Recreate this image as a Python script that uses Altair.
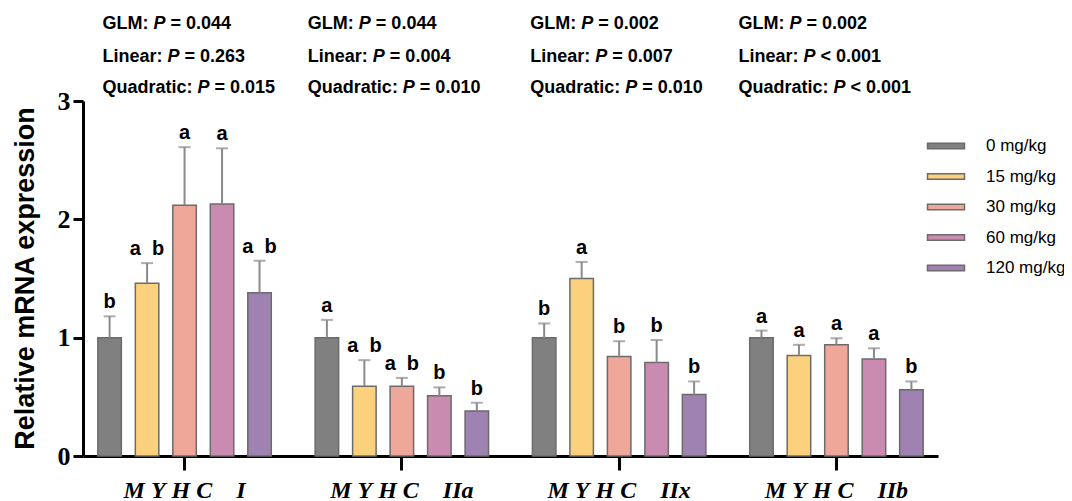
import altair as alt
import pandas as pd

genes = ["MYHC I", "MYHC IIa", "MYHC IIx", "MYHC IIb"]
doses = ["0 mg/kg", "15 mg/kg", "30 mg/kg", "60 mg/kg", "120 mg/kg"]
colors = ["#808080", "#FCD17E", "#EFA79A", "#C98CB0", "#9F81B2"]

means = {
    "MYHC I": [1.00, 1.46, 2.12, 2.13, 1.38],
    "MYHC IIa": [1.00, 0.59, 0.59, 0.51, 0.38],
    "MYHC IIx": [1.00, 1.50, 0.84, 0.79, 0.52],
    "MYHC IIb": [1.00, 0.85, 0.94, 0.82, 0.56],
}
ses = {
    "MYHC I": [0.18, 0.17, 0.49, 0.47, 0.27],
    "MYHC IIa": [0.15, 0.22, 0.07, 0.07, 0.07],
    "MYHC IIx": [0.12, 0.14, 0.13, 0.19, 0.11],
    "MYHC IIb": [0.06, 0.09, 0.055, 0.09, 0.07],
}
letters = {
    "MYHC I": ["b", "a b", "a", "a", "a b"],
    "MYHC IIa": ["a", "a b", "a b", "b", "b"],
    "MYHC IIx": ["b", "a", "b", "b", "b"],
    "MYHC IIb": ["a", "a", "a", "a", "b"],
}

glm_p = ["= 0.044", "= 0.044", "= 0.002", "= 0.002"]
linear_p = ["= 0.263", "= 0.004", "= 0.007", "< 0.001"]
quad_p = ["= 0.015", "= 0.010", "= 0.010", "< 0.001"]

rows = []
for g in genes:
    for i, d in enumerate(doses):
        m = means[g][i]
        rows.append({"gene": g, "dose": d, "mean": m,
                     "upper": round(m + ses[g][i], 3), "letter": letters[g][i]})
df = pd.DataFrame(rows)

NB = "\u00a0"
label_expr = ("replace(datum.label, 'MYHC ', 'M" + NB + "Y" + NB + "H" + NB + "C" + NB * 4 + "')")

x_enc = alt.X("gene:N", sort=genes,
              scale=alt.Scale(paddingInner=0.1, paddingOuter=0.0174),
              axis=alt.Axis(title=None, labelAngle=0, domainColor="black", domainWidth=3,
                            tickColor="black", tickWidth=3, tickSize=14,
                            labelFont="Liberation Serif", labelFontStyle="italic",
                            labelFontWeight="bold", labelFontSize=24, labelColor="black",
                            labelPadding=8, labelExpr=label_expr))
xo_enc = alt.XOffset("dose:N", sort=doses,
                     scale=alt.Scale(paddingInner=0.373, paddingOuter=0.295))

base = alt.Chart(df)

bars = base.mark_bar(stroke="#6b6b6b", strokeWidth=1.5).encode(
    x=x_enc, xOffset=xo_enc,
    y=alt.Y("mean:Q", scale=alt.Scale(domain=[0, 3]),
            axis=alt.Axis(values=[0, 1, 2, 3], format="d", grid=False,
                          title="Relative mRNA expression", titleFont="Liberation Sans",
                          titleFontSize=27, titleFontWeight="bold", titleColor="black",
                          titleX=-50, titleY=177, titleBaseline="alphabetic",
                          labelFont="Liberation Serif", labelFontWeight="bold",
                          labelFontSize=26, labelColor="black", labelPadding=3,
                          tickSize=10, tickWidth=3, tickColor="black",
                          domainWidth=3, domainColor="black")),
    color=alt.Color("dose:N", sort=doses, scale=alt.Scale(domain=doses, range=colors),
                    legend=alt.Legend(title=None, orient="none", legendX=853, legendY=35,
                                      symbolType="M-2,-0.3L2,-0.3L2,0.3L-2,0.3Z",
                                      symbolSize=342, symbolStrokeColor="#6b6b6b",
                                      symbolStrokeWidth=1.5, labelFont="Liberation Sans",
                                      labelFontSize=17, labelColor="black", labelOffset=30,
                                      rowPadding=12.5, padding=0)),
)

err = base.mark_rule(color="#8a8a8a", strokeWidth=2).encode(
    x=x_enc, xOffset=xo_enc, y="mean:Q", y2="upper:Q")
caps = base.mark_tick(color="#8a8a8a", thickness=2, size=12, orient="horizontal").encode(
    x=x_enc, xOffset=xo_enc, y="upper:Q")
labels = base.transform_calculate(
    lab="replace(datum.letter, ' ', '" + NB + NB + "')"
).mark_text(dy=-8, baseline="alphabetic", fontSize=20, fontWeight="bold",
            font="Liberation Sans", color="black").encode(
    x=x_enc, xOffset=xo_enc, y="upper:Q", text="lab:N")

# header annotations
gene_dx = {"MYHC I": -82, "MYHC IIa": -94, "MYHC IIx": -89, "MYHC IIb": -98}
row_specs = [("GLM:", glm_p, -77, 51), ("Linear:", linear_p, -44, 65),
             ("Quadratic:", quad_p, -13, 95)]
ann_layers = []
font_kw = dict(font="Liberation Sans", fontSize=18, fontWeight="bold", color="black",
               baseline="middle", align="left")
for prefix, vals, yy, w in row_specs:
    for gi, g in enumerate(genes):
        d = pd.DataFrame({"gene": [g], "prefix": [prefix], "p": ["P"], "val": [vals[gi]]})
        c = alt.Chart(d)
        dx = gene_dx[g]
        ann_layers.append(c.mark_text(dx=dx, **font_kw).encode(
            x=alt.X("gene:N", sort=genes), y=alt.value(yy), text="prefix:N"))
        ann_layers.append(c.mark_text(dx=dx + w, fontStyle="italic", **font_kw).encode(
            x=alt.X("gene:N", sort=genes), y=alt.value(yy), text="p:N"))
        ann_layers.append(c.mark_text(dx=dx + w + 17, **font_kw).encode(
            x=alt.X("gene:N", sort=genes), y=alt.value(yy), text="val:N"))

chart = alt.layer(bars, err, caps, labels, *ann_layers).properties(
    width=855, height=355,
    background="white",
    autosize=alt.AutoSizeParams(type="none"),
    padding={"left": 75, "top": 93, "right": 126, "bottom": 45},
).configure_view(strokeWidth=0, stroke=None)

chart.save("out.html", embed_options={"renderer": "svg", "actions": False})
